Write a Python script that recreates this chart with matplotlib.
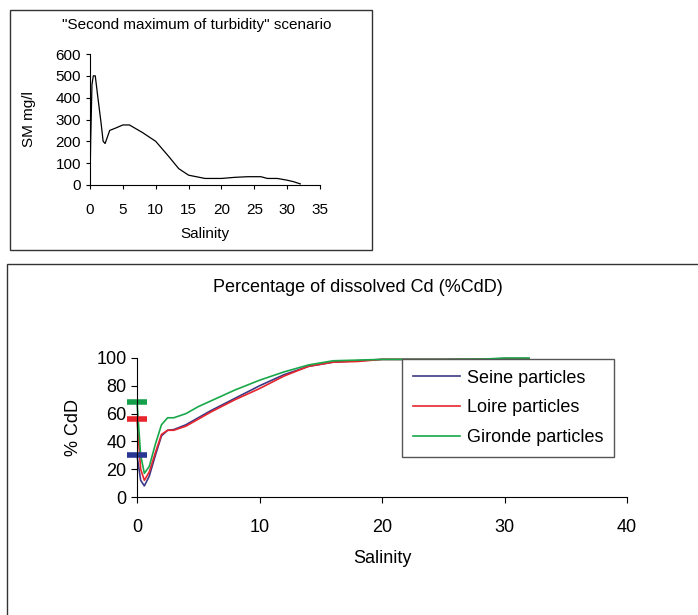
import matplotlib
matplotlib.use("Agg")
import matplotlib.pyplot as plt
from matplotlib.patches import Rectangle

plt.rcParams['font.family'] = ['Liberation Sans', 'DejaVu Sans']

# top panel: suspended matter vs salinity
sm_sal = [0, 0.1, 0.3, 0.5, 0.8, 1.2, 1.7, 2.0, 2.3, 3.0, 4.0, 5.0, 6.0, 8.0, 10.0,
          12.0, 13.5, 15.0, 17.5, 20.0, 22.0, 24.0, 26.0, 27.0, 28.5, 30.0, 31.0, 32.0]
sm_val = [0, 200, 460, 500, 500, 400, 280, 200, 190, 250, 262, 275, 275, 240, 200,
          130, 75, 45, 30, 30, 35, 38, 38, 30, 30, 22, 15, 5]

# bottom panel: % dissolved Cd
cd_sal = [0, 0.3, 0.6, 1.0, 1.5, 2.0, 2.5, 3.0, 4.0, 5.0, 6.0, 8.0, 10.0, 12.0,
          14.0, 16.0, 18.0, 20.0, 25.0, 28.5, 30.0, 32.0]
seine = [30, 12, 8, 15, 30, 44, 48, 48.5, 52, 57, 62, 71, 80, 88, 94, 97, 98, 99, 99, 99.2, 99.5, 99.5]
loire = [56, 20, 12, 18, 32, 45, 48, 48, 51, 56, 61, 70, 78, 87, 94, 97, 97.5, 99, 99, 99.2, 99.5, 99.5]
gironde = [68, 30, 17, 22, 38, 52, 57, 57, 60, 65, 69, 77, 84, 90, 95, 98, 98.5, 99, 99, 99.3, 100, 100]
start_vals = [68, 56, 30]

fig = plt.figure(figsize=(6.98, 6.15), dpi=100)

# panel frames
fig.add_artist(Rectangle((10/698, 1-250/615), 362/698, 240/615, transform=fig.transFigure,
                         fill=False, edgecolor='#333333', lw=1.0))
fig.add_artist(Rectangle((7/698, -0.1), 1.2, 0.1 + 1-264/615, transform=fig.transFigure,
                         fill=False, edgecolor='#333333', lw=1.0))

ax1 = fig.add_axes([90/698, 1-185/615, 230/698, 131/615])
ax1.plot(sm_sal, sm_val, color='black', lw=0.9)
ax1.set_xlim(0, 35)
ax1.set_ylim(0, 600)
ax1.set_xticks(range(0, 36, 5))
ax1.set_yticks(range(0, 601, 100))
for s in ['top', 'right']:
    ax1.spines[s].set_visible(False)
ax1.tick_params(labelsize=11, length=3, width=0.8, direction='out')
ax1.tick_params(axis='x', pad=10)
ax1.set_xlabel('Salinity', fontsize=11, labelpad=7)
ax1.set_ylabel('SM mg/l', fontsize=11, labelpad=14)
fig.text(197/698, 1-25/615, '"Second maximum of turbidity" scenario', fontsize=11,
         ha='center', va='center')

ax2 = fig.add_axes([137/698, 1-497/615, 490/698, 139/615])
c_seine, c_loire, c_gironde = '#3b3a86', '#e8242c', '#18a84a'
ax2.plot(cd_sal, seine, color=c_seine, lw=1.2, label='Seine particles', clip_on=False)
ax2.plot(cd_sal, loire, color=c_loire, lw=1.2, label='Loire particles', clip_on=False)
ax2.plot(cd_sal, gironde, color=c_gironde, lw=1.2, label='Gironde particles', clip_on=False)
for v, c in zip(start_vals, ['#14a04a', '#e8242c', '#283593']):
    ax2.plot([0], [v], marker='_', markersize=15, mew=4, color=c, clip_on=False)
ax2.set_xlim(0, 40)
ax2.set_ylim(0, 100)
ax2.set_xticks(range(0, 41, 10))
ax2.set_yticks(range(0, 101, 20))
for s in ['top', 'right']:
    ax2.spines[s].set_visible(False)
ax2.tick_params(labelsize=13, length=4, width=0.8, direction='out')
ax2.tick_params(axis='x', pad=12)
ax2.set_xlabel('Salinity', fontsize=13, labelpad=10)
ax2.set_ylabel('% CdD', fontsize=13, labelpad=10)
leg = ax2.legend(loc='upper left', bbox_to_anchor=(265/490, 0.993), borderaxespad=0,
                 fontsize=13, frameon=True, fancybox=False, edgecolor='#555555',
                 framealpha=1, handlelength=2.6, handletextpad=0.4, borderpad=0.6,
                 labelspacing=0.7)
leg.get_frame().set_linewidth(1.0)
fig.text(358/698, 1-288/615, 'Percentage of dissolved Cd (%CdD)', fontsize=13,
         ha='center', va='center')

fig.savefig('out.png', dpi=100)
